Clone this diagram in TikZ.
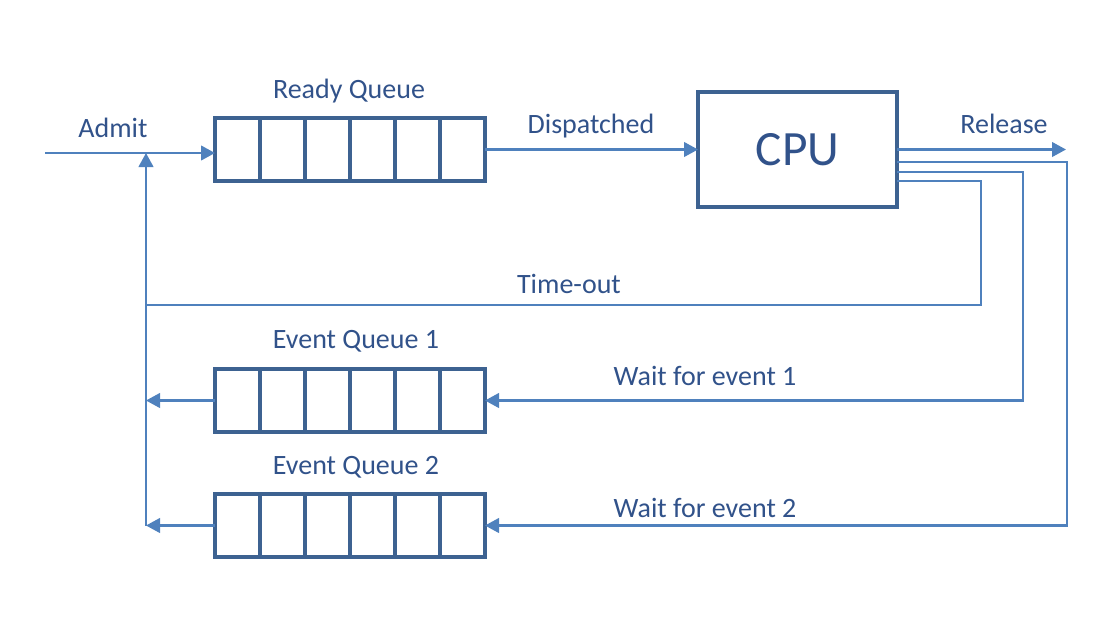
\documentclass[tikz,border=0pt]{standalone}
\usepackage{fontspec}
\setmainfont{Carlito}
\usetikzlibrary{arrows.meta,calc}
\definecolor{boxblue}{HTML}{3D6291}
\definecolor{lineblue}{HTML}{4F81BD}
\definecolor{textblue}{HTML}{31528A}
\begin{document}
\begin{tikzpicture}[x=0.75pt,y=-0.75pt,
  queue/.style={draw=boxblue, line width=2.3pt, minimum width=202.5pt,
    minimum height=47.25pt, inner sep=0pt, outer sep=0pt},
  cpubox/.style={draw=boxblue, line width=2.3pt, minimum width=149.25pt,
    minimum height=86.25pt, inner sep=0pt, outer sep=0pt, text=textblue,
    font=\fontsize{37}{40}\selectfont},
  label/.style={text=textblue, font=\fontsize{21}{24}\selectfont,
    inner sep=0pt, anchor=base},
  conn/.style={draw=lineblue, line width=1.6pt},
  flow/.style={conn, -{Triangle[length=10.5pt,width=11pt]}}]
  \useasboundingbox (0,0) rectangle (1118,626);

  % queues and processor
  \node[queue] (ready) at (350,149.5) {};
  \node[queue] (eq1) at (350,400.5) {};
  \node[queue] (eq2) at (350,525.5) {};
  \node[cpubox] (cpu) at (797.5,149.5) {CPU};

  % cell dividers of each queue
  \foreach \q in {ready,eq1,eq2}{
    \foreach \i in {1,...,5}{
      \draw[boxblue, line width=2.3pt]
        ($(\q.north west)!\i/6!(\q.north east)$) --
        ($(\q.south west)!\i/6!(\q.south east)$);
    }
  }

  % labels
  \node[label] (admitlbl) at (113,137) {Admit};
  \node[label] (readylbl) at (349,98) {Ready Queue};
  \node[label] (displbl) at (591,133) {Dispatched};
  \node[label] (rellbl) at (1004,133) {Release};
  \node[label] (tolbl) at (569,293) {Time-out};
  \node[label] (eq1lbl) at (356,348) {Event Queue 1};
  \node[label] (w1lbl) at (705,385) {Wait for event 1};
  \node[label] (eq2lbl) at (356,474) {Event Queue 2};
  \node[label] (w2lbl) at (705,517) {Wait for event 2};

  % junction points
  \coordinate (admitin) at (45,153);
  \coordinate (join) at (146,153);
  \coordinate (joinbot) at (146,525.5);
  \coordinate (join1) at (146,400.5);
  \coordinate (jointo) at (146,305);
  \coordinate (relout) at (1066,149.5);

  % admission and dispatch
  \draw[flow] (admitin) -- (admitin -| ready.west);
  \draw[flow] (joinbot) -- (join);
  \draw[flow] (ready.east) -- (cpu.west);
  \draw[flow] (cpu.east) -- (relout);

  % feedback paths from the processor
  \draw[conn] (cpu.east |- 0,181) -| (981,305) -- (jointo);
  \draw[flow] (cpu.east |- 0,172) -| (1023,400.5) -- (eq1.east);
  \draw[flow] (cpu.east |- 0,162) -| (1067,525.5) -- (eq2.east);

  % event queues back to the ready queue
  \draw[flow] (eq1.west) -- (join1);
  \draw[flow] (eq2.west) -- (joinbot);
\end{tikzpicture}
\end{document}
